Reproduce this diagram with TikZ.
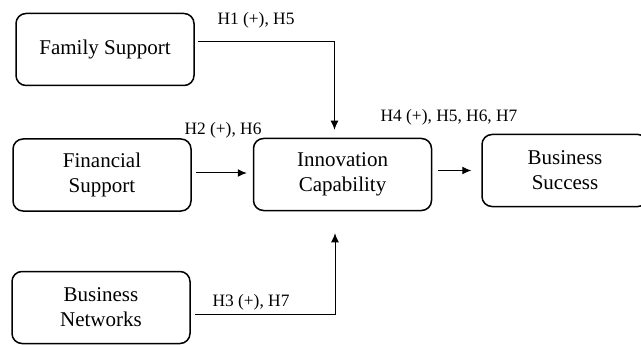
\documentclass[tikz,border=0pt]{standalone}
\usepackage{fontspec}
\setmainfont{Liberation Serif}
\usetikzlibrary{arrows.meta,positioning}

\begin{document}
\begin{tikzpicture}[x=1pt,y=-1pt]
			\tikzset{construct/.style={draw,line width=1.5pt,rounded corners=10pt,align=center,
					minimum width=178pt,minimum height=72pt,inner sep=0pt,font=\fontsize{21}{25}\selectfont},
				hyp/.style={font=\fontsize{17.4}{20}\selectfont,inner sep=0pt},
				arr/.style={line width=1pt,-{Latex[length=9pt,width=8pt]}}}
			\useasboundingbox (0,0) rectangle (641,345);

			\node[construct] (family) at (105,49.5) {Family Support};
			\node[construct] (financial) at (102,175) {Financial\\Support};
			\node[construct] (innovation) at (342.5,174.5) {Innovation\\Capability};
			\node[construct, minimum width=166pt] (success) at (565,170.5) {Business\\Success};
			\node[construct] (networks) at (101,307.5) {Business\\Networks};

			\node[hyp] (h1) at (256,20) {H1 (+), H5};
			\node[hyp] (h2) at (223,130) {H2 (+), H6};
			\node[hyp] (h4) at (449,117) {H4 (+), H5, H6, H7};
			\node[hyp] (h3) at (251,302) {H3 (+), H7};

			\draw[arr] ([xshift=3pt,yshift=8pt]family.east) -| ([xshift=-8pt,yshift=8pt]innovation.north);
			\draw[arr, shorten <=4pt, shorten >=6pt] (financial.east |- 0,173) -- (innovation.west |- 0,173);
			\draw[arr, shorten <=6pt, shorten >=10pt] (innovation.east |- success.center) -- (success.west);
			\draw[arr] ([xshift=4pt,yshift=-6.5pt]networks.east) -| ([xshift=-7.5pt,yshift=-22pt]innovation.south);
		\end{tikzpicture}
\end{document}
